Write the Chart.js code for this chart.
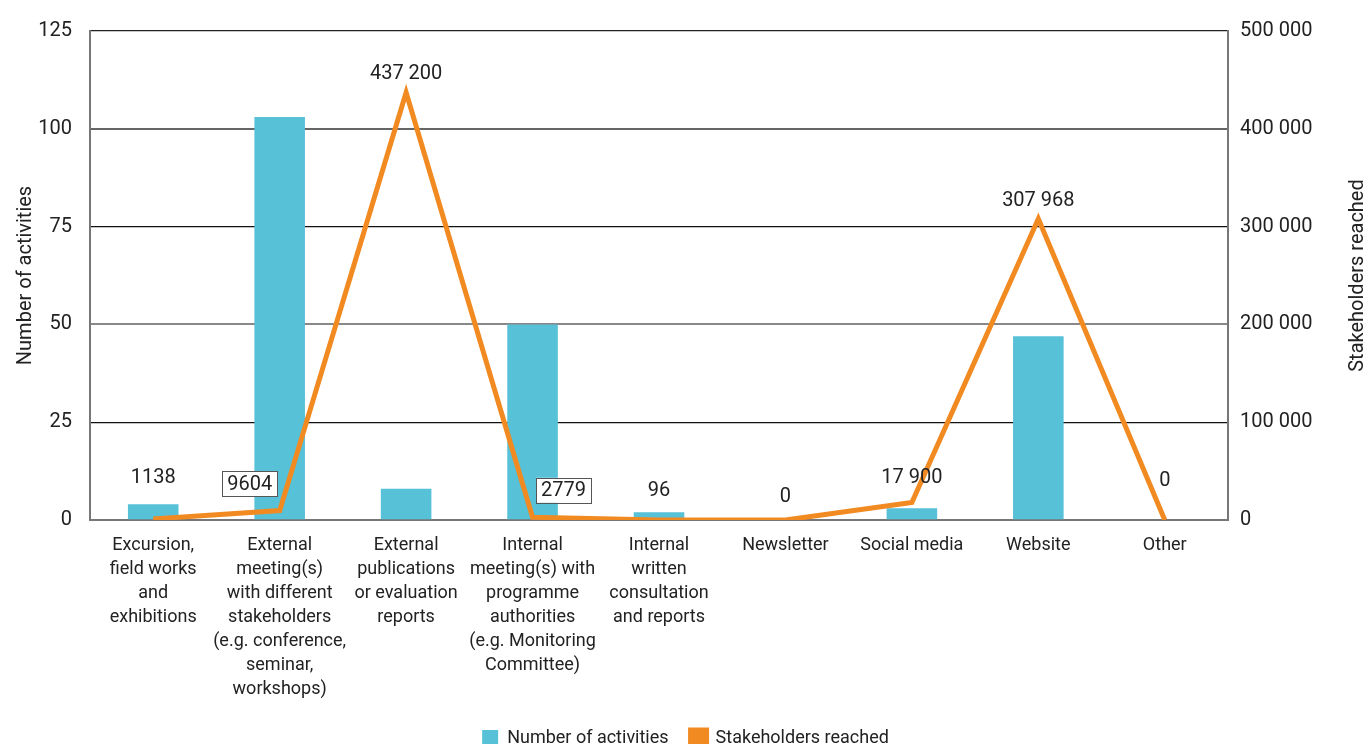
<!DOCTYPE html>
<html>
<head>
<meta charset="utf-8">
<script src="https://cdn.jsdelivr.net/npm/chart.js@4.4.1/dist/chart.umd.min.js"></script>
<style>
    html, body { margin: 0; padding: 0; background: #fff; overflow: hidden; }
    #chart { display: block; }
</style>
</head>
<body>
<canvas id="chart" width="1371" height="757" style="width:1371px;height:757px"></canvas>
<script>
// categories and values
const categories = [
    ["Excursion,", "field works", "and", "exhibitions"],
    ["External", "meeting(s)", "with different", "stakeholders", "(e.g. conference,", "seminar,", "workshops)"],
    ["External", "publications", "or evaluation", "reports"],
    ["Internal", "meeting(s) with", "programme", "authorities", "(e.g. Monitoring", "Committee)"],
    ["Internal", "written", "consultation", "and reports"],
    ["Newsletter"],
    ["Social media"],
    ["Website"],
    ["Other"]
];
const activities = [4, 103, 8, 50, 2, 0, 3, 47, 0];
const stakeholders = [1138, 9604, 437200, 2779, 96, 0, 17900, 307968, 0];
const leftTicks = [0, 25, 50, 75, 100, 125];
const rightTicks = [0, 100000, 200000, 300000, 400000, 500000];

// label placement relative to each line point (style only)
const labelStyle = [
    { dx: 0, dy: -42 },
    { dx: -30, dy: -27, boxed: true },
    { dx: 0, dy: -19 },
    { dx: 31, dy: -27, boxed: true },
    { dx: 0, dy: -30 },
    { dx: 0, dy: -24 },
    { dx: 0, dy: -25 },
    { dx: 0, dy: -19 },
    { dx: 0, dy: -40 }
];

const BAR_COLOR = "#57c1d7";
const LINE_COLOR = "#f28a22";
const TEXT = "#222";
const FONT = "Roboto, 'Noto Sans', sans-serif";

const fmt = (v) => {
    if (v < 10000) return String(v);
    return String(v).replace(/\B(?=(\d{3})+(?!\d))/g, " ");
};

const gridColors = { 125: "#222", 100: "#666", 75: "#111", 50: "#888", 25: "#111", 0: "rgba(0,0,0,0)" };

const pointLabels = {
    id: "pointLabels",
    afterDatasetsDraw(chart) {
        const ctx = chart.ctx;
        const meta = chart.getDatasetMeta(0);
        ctx.save();
        ctx.font = "20px " + FONT;
        ctx.textAlign = "center";
        ctx.textBaseline = "middle";
        meta.data.forEach((pt, i) => {
            const st = labelStyle[i];
            const txt = fmt(stakeholders[i]);
            const x = pt.x + st.dx;
            const y = pt.y + st.dy;
            if (st.boxed) {
                const w = ctx.measureText(txt).width + 10;
                const h = 25;
                ctx.fillStyle = "#fff";
                ctx.fillRect(x - w / 2, y - h / 2, w, h);
                ctx.strokeStyle = "#555";
                ctx.lineWidth = 1;
                ctx.strokeRect(Math.round(x - w / 2) + 0.5, Math.round(y - h / 2) + 0.5, Math.round(w), h);
            }
            ctx.fillStyle = TEXT;
            ctx.fillText(txt, x, y + 1);
        });
        ctx.restore();
    }
};

// right axis title reads bottom-to-top like the left one
const rightTitle = {
    id: "rightTitle",
    afterDraw(chart) {
        const ctx = chart.ctx;
        const area = chart.chartArea;
        ctx.save();
        ctx.translate(1358, (area.top + area.bottom) / 2);
        ctx.rotate(-Math.PI / 2);
        ctx.font = "20px " + FONT;
        ctx.fillStyle = TEXT;
        ctx.textAlign = "center";
        ctx.textBaseline = "middle";
        ctx.fillText("Stakeholders reached", 0, 0);
        ctx.restore();
    }
};

new Chart(document.getElementById("chart"), {
    data: {
        labels: categories,
        datasets: [
            {
                type: "line",
                label: "Stakeholders reached",
                data: stakeholders,
                yAxisID: "y1",
                borderColor: LINE_COLOR,
                backgroundColor: LINE_COLOR,
                borderWidth: 5,
                pointRadius: 0,
                tension: 0,
                borderJoinStyle: "miter"
            },
            {
                type: "bar",
                label: "Number of activities",
                data: activities,
                yAxisID: "y",
                backgroundColor: BAR_COLOR,
                barPercentage: 0.4,
                categoryPercentage: 1.0
            }
        ]
    },
    options: {
        responsive: false,
        animation: false,
        layout: { padding: { top: 31, left: 0, right: 0, bottom: 0 } },
        scales: {
            x: {
                grid: { display: false },
                border: { display: true, color: "#777", width: 2 },
                ticks: {
                    autoSkip: false,
                    maxRotation: 0,
                    padding: 6,
                    color: TEXT,
                    font: { family: FONT, size: 18, lineHeight: 1.33 }
                },
                afterFit: (scale) => { scale.height = 187; }
            },
            y: {
                position: "left",
                min: 0,
                max: 125,
                afterBuildTicks: (scale) => { scale.ticks = leftTicks.map(v => ({ value: v })); },
                grid: {
                    drawTicks: false,
                    color: (c) => gridColors[c.tick.value] || "#111",
                    lineWidth: (c) => (c.tick.value === 50 || c.tick.value === 100) ? 2 : 1.3
                },
                border: { display: true, color: "#777", width: 2 },
                ticks: { padding: 18, color: TEXT, font: { family: FONT, size: 20 } },
                title: {
                    display: true,
                    text: "Number of activities",
                    color: TEXT,
                    padding: { top: 14, bottom: 0 },
                    font: { family: FONT, size: 20 }
                },
                afterFit: (scale) => { scale.width = 90; }
            },
            y1: {
                position: "right",
                min: 0,
                max: 500000,
                afterBuildTicks: (scale) => { scale.ticks = rightTicks.map(v => ({ value: v })); },
                grid: { display: false, drawTicks: false },
                border: { display: true, color: "#777", width: 2 },
                ticks: {
                    padding: 12,
                    color: TEXT,
                    font: { family: FONT, size: 20 },
                    callback: (v) => String(v).replace(/\B(?=(\d{3})+(?!\d))/g, " ")
                },
                afterFit: (scale) => { scale.width = 143; }
            }
        },
        plugins: {
            legend: {
                position: "bottom",
                labels: {
                    boxWidth: 16,
                    boxHeight: 16,
                    padding: 22,
                    color: TEXT,
                    font: { family: FONT, size: 18 },
                    sort: (a, b) => b.datasetIndex - a.datasetIndex
                }
            },
            tooltip: { enabled: false }
        }
    },
    plugins: [pointLabels, rightTitle]
});
</script>
</body>
</html>
